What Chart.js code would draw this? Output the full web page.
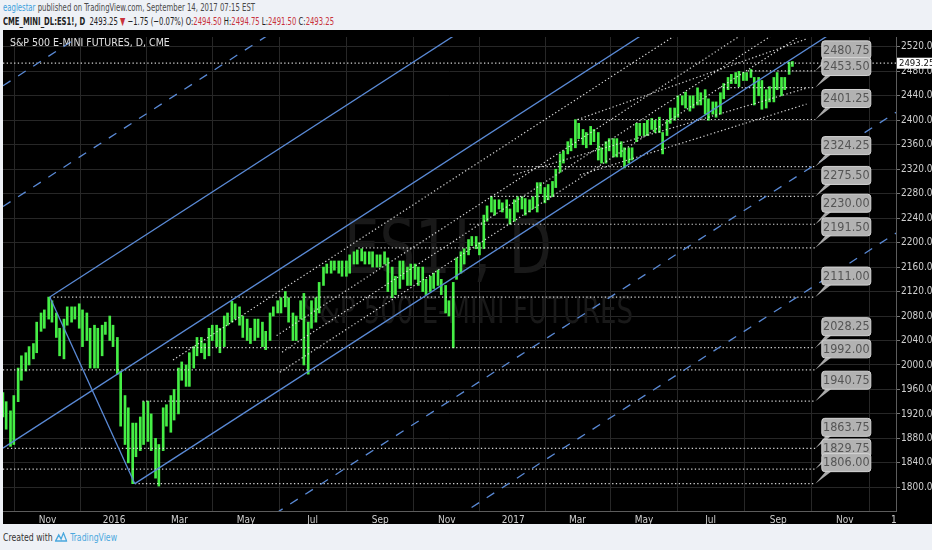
<!DOCTYPE html>
<html>
<head>
<meta charset="utf-8">
<script src="https://cdn.jsdelivr.net/npm/chart.js@4.4.1/dist/chart.umd.min.js"></script>
<style>
  html, body { margin: 0; padding: 0; width: 932px; height: 550px; overflow: hidden; background: #eef1f6; }
  .hl { position: absolute; left: 3px; white-space: nowrap; font-size: 11px; transform-origin: 0 0; }
  #head1 { top: 1px; color: #4a4a4a; }
  #head2 { top: 15px; color: #222; }
  #head1 .user { color: #3d9fdc; }
  #head2 .sym { font-weight: bold; }
  #head2 .red { color: #c8323c; }
  #box { position: absolute; left: 3px; top: 30px; width: 929px; height: 494px; background: #000; }
  #foot { position: absolute; left: 3px; top: 531px; font-size: 11px; color: #333; white-space: nowrap; transform-origin: 0 0; }
  #foot .tv { color: #4aa8de; }
</style>
</head>
<body>
<div id="head1" class="hl"><span class="user">eaglestar</span> published on TradingView.com, September 14, 2017 07:15 EST</div>
<div id="head2" class="hl"><span class="sym">CME_MINI_DL:ES1!, D</span>&nbsp; 2493.25 <span class="red">&#9660;</span> &minus;1.75 (&minus;0.07%) O:<span class="red">2494.50</span> H:<span class="red">2494.75</span> L:<span class="red">2491.50</span> C:<span class="red">2493.25</span></div>
<div id="box"><canvas id="chart" width="929" height="494" style="width:929px;height:494px"></canvas></div>
<div id="foot">Created with <svg width="16" height="10" viewBox="0 0 16 10" style="vertical-align:-1px"><path d="M1 9 L5 3 L8 7 L11 1 L15 9 Z" fill="none" stroke="#4aa8de" stroke-width="1.6"/></svg> <span class="tv">TradingView</span></div>

<script>
// ---- data ----
// half-week price ranges (date, low, high)
const barDates = [
  '2015-09-21','2015-09-24','2015-09-28','2015-10-01','2015-10-05','2015-10-08','2015-10-12','2015-10-15',
  '2015-10-19','2015-10-22','2015-10-26','2015-10-29','2015-11-02','2015-11-05','2015-11-09','2015-11-12',
  '2015-11-16','2015-11-19','2015-11-23','2015-11-26','2015-11-30','2015-12-03','2015-12-07','2015-12-10',
  '2015-12-14','2015-12-17','2015-12-21','2015-12-24','2015-12-28','2015-12-31','2016-01-04','2016-01-07',
  '2016-01-11','2016-01-14','2016-01-18','2016-01-21','2016-01-25','2016-01-28','2016-02-01','2016-02-04',
  '2016-02-08','2016-02-11','2016-02-15','2016-02-18','2016-02-22','2016-02-25','2016-02-29','2016-03-03',
  '2016-03-07','2016-03-10','2016-03-14','2016-03-17','2016-03-21','2016-03-24','2016-03-28','2016-03-31',
  '2016-04-04','2016-04-07','2016-04-11','2016-04-14','2016-04-18','2016-04-21','2016-04-25','2016-04-28',
  '2016-05-02','2016-05-05','2016-05-09','2016-05-12','2016-05-16','2016-05-19','2016-05-23','2016-05-26',
  '2016-05-30','2016-06-02','2016-06-06','2016-06-09','2016-06-13','2016-06-16','2016-06-20','2016-06-23',
  '2016-06-27','2016-06-30','2016-07-04','2016-07-07','2016-07-11','2016-07-14','2016-07-18','2016-07-21',
  '2016-07-25','2016-07-28','2016-08-01','2016-08-04','2016-08-08','2016-08-11','2016-08-15','2016-08-18',
  '2016-08-22','2016-08-25','2016-08-29','2016-09-01','2016-09-05','2016-09-08','2016-09-12','2016-09-15',
  '2016-09-19','2016-09-22','2016-09-26','2016-09-29','2016-10-03','2016-10-06','2016-10-10','2016-10-13',
  '2016-10-17','2016-10-20','2016-10-24','2016-10-27','2016-10-31','2016-11-03','2016-11-07','2016-11-10',
  '2016-11-14','2016-11-17','2016-11-21','2016-11-24','2016-11-28','2016-12-01','2016-12-05','2016-12-08',
  '2016-12-12','2016-12-15','2016-12-19','2016-12-22','2016-12-26','2016-12-29','2017-01-02','2017-01-05',
  '2017-01-09','2017-01-12','2017-01-16','2017-01-19','2017-01-23','2017-01-26','2017-01-30','2017-02-02',
  '2017-02-06','2017-02-09','2017-02-13','2017-02-16','2017-02-20','2017-02-23','2017-02-27','2017-03-02',
  '2017-03-06','2017-03-09','2017-03-13','2017-03-16','2017-03-20','2017-03-23','2017-03-27','2017-03-30',
  '2017-04-03','2017-04-06','2017-04-10','2017-04-13','2017-04-17','2017-04-20','2017-04-24','2017-04-27',
  '2017-05-01','2017-05-04','2017-05-08','2017-05-11','2017-05-15','2017-05-18','2017-05-22','2017-05-25',
  '2017-05-29','2017-06-01','2017-06-05','2017-06-08','2017-06-12','2017-06-15','2017-06-19','2017-06-22',
  '2017-06-26','2017-06-29','2017-07-03','2017-07-06','2017-07-10','2017-07-13','2017-07-17','2017-07-20',
  '2017-07-24','2017-07-27','2017-07-31','2017-08-03','2017-08-07','2017-08-10','2017-08-14','2017-08-17',
  '2017-08-21','2017-08-24','2017-08-28','2017-08-31','2017-09-04','2017-09-07','2017-09-11','2017-09-14'
];
const barLows = [
  1915,1895,1867,1870,1940,1975,1990,2000, 2010,2020,2055,2060,2075,2070,2045,2015,
  2010,2065,2070,2075,2060,2030,2040,1995, 1995,1995,2015,2050,2040,2030,1985,1900,
  1870,1840,1806,1850,1860,1870,1875,1860, 1815,1802,1860,1900,1890,1910,1920,1975,
  1965,1965,1995,2015,2020,2010,2015,2040, 2030,2020,2030,2065,2070,2075,2065,2045,
  2040,2035,2040,2045,2030,2025,2040,2080, 2085,2085,2095,2070,2040,2040,2075,2000,
  1985,2060,2070,2085,2130,2150,2150,2155, 2150,2145,2145,2150,2165,2165,2170,2165,
  2165,2160,2160,2160,2165,2120,2110,2115, 2125,2140,2130,2130,2140,2130,2120,2115,
  2120,2125,2130,2115,2085,2080,2028,2140, 2150,2165,2180,2195,2190,2180,2190,2235,
  2250,2245,2255,2250,2240,2230,2235,2250, 2255,2245,2250,2255,2250,2280,2265,2270,
  2275,2290,2315,2330,2345,2350,2355,2370, 2360,2355,2360,2365,2335,2330,2330,2350,
  2340,2340,2340,2322,2330,2335,2365,2375, 2375,2375,2385,2380,2380,2345,2375,2395,
  2400,2405,2425,2420,2415,2420,2425,2425, 2410,2400,2410,2405,2410,2435,2450,2460,
  2460,2455,2465,2465,2470,2425,2440,2418, 2420,2430,2430,2450,2440,2450,2475,2488
];
const barHighs = [
  1955,1940,1925,1950,1995,2015,2020,2030, 2035,2070,2085,2090,2111,2105,2085,2060,
  2075,2095,2095,2095,2100,2090,2085,2060, 2065,2060,2065,2070,2080,2065,2045,1990,
  1950,1930,1905,1905,1915,1940,1941,1920, 1880,1870,1930,1935,1950,1960,1995,2005,
  2000,2020,2030,2045,2045,2035,2060,2065, 2065,2060,2080,2085,2104,2100,2095,2080,
  2075,2060,2075,2075,2070,2055,2085,2095, 2105,2110,2120,2110,2085,2080,2105,2117,
  2070,2105,2110,2135,2160,2165,2170,2170, 2170,2170,2170,2180,2185,2188,2190,2185,
  2185,2185,2180,2180,2185,2175,2160,2145, 2170,2170,2160,2165,2165,2160,2160,2140,
  2145,2150,2155,2140,2130,2105,2135,2175, 2185,2190,2205,2210,2210,2200,2245,2260,
  2275,2270,2270,2265,2270,2255,2270,2275, 2275,2272,2270,2275,2298,2298,2290,2295,
  2300,2320,2345,2350,2365,2370,2401,2395, 2385,2380,2390,2385,2380,2355,2365,2370,
  2370,2370,2365,2355,2355,2355,2395,2395, 2395,2400,2403,2400,2405,2380,2400,2420,
  2420,2440,2440,2446,2440,2440,2453,2445, 2450,2435,2430,2430,2445,2460,2470,2475,
  2478,2480,2478,2478,2483,2470,2470,2465, 2450,2455,2470,2478,2470,2470,2495,2496
];
const lastPrice = 2493.25;

// horizontal levels with their callout labels
const levelValues = [2480.75, 2453.50, 2401.25, 2324.25, 2275.50, 2230.00, 2191.50,
                     2111.00, 2028.25, 1992.00, 1940.75, 1863.75, 1829.75, 1806.00];
const levelStarts = ['2017-08-04','2017-07-09','2017-03-01','2017-01-01','2016-12-11','2016-11-22','2016-08-12',
                     '2015-11-03','2016-02-19','2015-09-21','2016-01-27','2015-09-25','2015-09-21','2016-01-20'];
const levelEnd = '2017-10-05';

// pitchfork pivots (date, price)
const pitchA = ['2015-09-21', 1864];
const pitchB = ['2015-11-03', 2111];
const pitchC = ['2016-01-20', 1806];
const warningSteps = [2, 3, -2, -3];   // extra levels, in half-widths from the median

// dotted channels parallel to the pitchfork
const channelStarts = [['2016-02-24', 2008], ['2016-05-29', 2048], ['2016-06-03', 2021], ['2016-06-01', 1988]];
const channelEnd = '2017-09-27';

// dotted fan lines of 2017
const fanStarts = [['2017-03-01', 2401.25], ['2017-01-01', 2310.5], ['2017-03-03', 2310.5]];
const fanEnds   = [['2017-09-27', 2533],    ['2017-09-27', 2452.5], ['2017-09-27', 2426.5]];

// axes
const yTicks = [1800, 1840, 1880, 1920, 1960, 2000, 2040, 2080, 2120, 2160, 2200,
                2240, 2280, 2320, 2360, 2400, 2440, 2480, 2520];
const xTickDates = ['2015-11-01','2016-01-01','2016-03-01','2016-05-01','2016-07-01','2016-09-01','2016-11-01',
                    '2017-01-01','2017-03-01','2017-05-01','2017-07-01','2017-09-01','2017-11-01','2017-12-16'];
const xTickLabels = ['Nov','2016','Mar','May','Jul','Sep','Nov','2017','Mar','May','Jul','Sep','Nov','1'];
const viewFrom = '2015-09-21', viewTo = '2017-12-18';
const yMin = 1761.3, yMax = 2536.1;

// ---- helpers ----
const origin = Date.UTC(2015, 10, 1);
function dayNum(s) {
  const p = s.split('-').map(Number);
  return (Date.UTC(p[0], p[1] - 1, p[2]) - origin) / 86400000;
}

// pick a narrow face if one is installed
function pickFont(list) {
  const c = document.createElement('canvas').getContext('2d');
  const s = '2520.00 Nov Mar ES1!';
  c.font = '20px monospace';
  const base = c.measureText(s).width;
  for (const f of list) {
    c.font = '20px "' + f + '", monospace';
    if (Math.abs(c.measureText(s).width - base) > 0.5) return '"' + f + '"';
  }
  return 'sans-serif';
}
const narrow = pickFont(['Liberation Sans Narrow', 'DejaVu Sans Condensed', 'Liberation Sans']);
const isNarrow = narrow.indexOf('Narrow') >= 0 || narrow.indexOf('Condensed') >= 0;

document.querySelectorAll('.hl, #foot').forEach(el => { el.style.fontFamily = narrow + ', sans-serif'; });
function fitWidth(el, w) {
  const r = el.getBoundingClientRect().width;
  el.style.transform = 'scaleX(' + (w / r) + ')';
}
fitWidth(document.getElementById('head1'), 252);
fitWidth(document.getElementById('head2'), 331);
fitWidth(document.getElementById('foot'), 114);

const xMin = dayNum(viewFrom) + 0.1, xMax = dayNum(viewTo);

const BLUE = '#5a8ad6';
const DOT = 'rgba(235,235,235,0.9)';

function seg(x1, y1, x2, y2, style) {
  return Object.assign({
    type: 'line',
    data: [{ x: x1, y: y1 }, { x: x2, y: y2 }],
    pointRadius: 0, borderWidth: 1.2, fill: false, tension: 0, order: 0
  }, style);
}
const solid = { borderColor: BLUE, borderWidth: 1.3 };
const dashed = { borderColor: BLUE, borderWidth: 1.3, borderDash: [9, 9] };
const dotted = { borderColor: DOT, borderWidth: 1.2, borderDash: [1.3, 2.4] };

// ---- build datasets ----
const datasets = [];

datasets.push({
  type: 'bar',
  data: barDates.map((d, i) => ({ x: dayNum(d), y: [barLows[i], barHighs[i]] })),
  backgroundColor: '#45ee45',
  borderWidth: 0,
  barThickness: 2,
  order: 5
});

// pitchfork
const dA = dayNum(pitchA[0]), dB = dayNum(pitchB[0]), dC = dayNum(pitchC[0]);
const dM = (dB + dC) / 2, pM = (pitchB[1] + pitchC[1]) / 2;
const k = (pM - pitchA[1]) / (dM - dA);
const median = d => pitchA[1] + k * (d - dA);
const half = pitchB[1] - median(dB);

datasets.push(seg(dA, pitchA[1], xMax, median(xMax), solid));
datasets.push(seg(dB, pitchB[1], xMax, pitchB[1] + k * (xMax - dB), solid));
datasets.push(seg(dC, pitchC[1], xMax, pitchC[1] + k * (xMax - dC), solid));
datasets.push(seg(dB, pitchB[1], dC, pitchC[1], solid));
warningSteps.forEach(n => {
  datasets.push(seg(xMin, median(xMin) + n * half, xMax, median(xMax) + n * half, dashed));
});

// channels
const dEnd = dayNum(channelEnd);
channelStarts.forEach(s => {
  const d0 = dayNum(s[0]);
  datasets.push(seg(d0, s[1], dEnd, s[1] + k * (dEnd - d0), dotted));
});

// fans
fanStarts.forEach((s, i) => {
  datasets.push(seg(dayNum(s[0]), s[1], dayNum(fanEnds[i][0]), fanEnds[i][1], dotted));
});

// levels
const dLevelEnd = dayNum(levelEnd);
levelValues.forEach((v, i) => {
  datasets.push(seg(dayNum(levelStarts[i]), v, dLevelEnd, v, dotted));
});
datasets.push(seg(xMin, lastPrice, xMax, lastPrice, dotted));

// ---- plugins ----
function fitText(ctx, text, cx, baseline, size, width, color) {
  ctx.font = size + 'px ' + narrow;
  const w = ctx.measureText(text).width;
  ctx.save();
  ctx.translate(cx, baseline);
  ctx.scale(width / w, 1);
  ctx.fillStyle = color;
  ctx.textAlign = 'center';
  ctx.textBaseline = 'alphabetic';
  ctx.fillText(text, 0, 0);
  ctx.restore();
}

const watermark = {
  id: 'watermark',
  beforeDatasetsDraw(chart) {
    const ctx = chart.ctx;
    fitText(ctx, 'ES1!, D', 445, 243, 74, 208, '#191919');
    fitText(ctx, 'S&P 500 E-MINI FUTURES', 465, 293, 38, 330, '#191919');
  }
};

const callouts = {
  id: 'callouts',
  afterDatasetsDraw(chart) {
    const ctx = chart.ctx, xs = chart.scales.x, ys = chart.scales.y;
    const ax = xs.getPixelForValue(dLevelEnd);
    ctx.save();
    levelValues.forEach(v => {
      const ay = ys.getPixelForValue(v);
      const bx = ax + 31, by = ay - 21;
      ctx.fillStyle = '#a9a9a9';
      ctx.beginPath();
      ctx.moveTo(ax, ay);
      ctx.lineTo(bx - 20, by + 8);
      ctx.lineTo(bx - 14, by + 8);
      ctx.closePath();
      ctx.fill();
      ctx.beginPath();
      ctx.roundRect(bx - 24.5, by - 9, 49, 18, 3);
      ctx.fillStyle = '#b2b2b2';
      ctx.fill();
      ctx.strokeStyle = '#d4d4d4';
      ctx.lineWidth = 1;
      ctx.stroke();
      ctx.fillStyle = '#555';
      ctx.font = (isNarrow ? 12.5 : 11) + 'px ' + narrow;
      ctx.textAlign = 'center';
      ctx.textBaseline = 'middle';
      ctx.fillText(v.toFixed(2), bx, by + 0.5);
    });
    ctx.restore();
  },
  afterDraw(chart) {
    const ctx = chart.ctx, ys = chart.scales.y, area = chart.chartArea;
    const py = ys.getPixelForValue(lastPrice);
    ctx.save();
    ctx.fillStyle = '#ffffff';
    ctx.fillRect(area.right + 1, py - 5.5, chart.width - area.right - 1, 11);
    ctx.fillStyle = '#111';
    ctx.font = (isNarrow ? 9.5 : 8.5) + 'px ' + narrow;
    ctx.textAlign = 'left';
    ctx.textBaseline = 'middle';
    ctx.fillText(lastPrice.toFixed(2), area.right + 3, py + 0.5);
    ctx.fillStyle = '#e0e0e0';
    ctx.font = (isNarrow ? 10.5 : 9.5) + 'px ' + narrow;
    ctx.fillText('S&P 500 E-MINI FUTURES, D, CME', 7, 13);
    ctx.restore();
  }
};

const tickFont = { family: narrow, size: isNarrow ? 10 : 9 };

new Chart(document.getElementById('chart'), {
  type: 'bar',
  data: { datasets: datasets },
  options: {
    responsive: false,
    animation: false,
    layout: { padding: 0 },
    plugins: { legend: { display: false }, tooltip: { enabled: false } },
    scales: {
      x: {
        type: 'linear',
        min: xMin, max: xMax,
        offset: false,
        grid: { color: '#272727', drawTicks: false },
        border: { color: '#5c5c5c' },
        afterBuildTicks: s => { s.ticks = xTickDates.map(d => ({ value: dayNum(d) })); },
        afterFit: s => { s.height = 13; },
        ticks: {
          autoSkip: false, maxRotation: 0, padding: 3,
          color: '#cfcfcf', font: tickFont,
          callback: (v, i) => xTickLabels[i]
        }
      },
      y: {
        type: 'linear',
        position: 'right',
        min: yMin, max: yMax,
        grid: { color: '#272727', tickLength: 4, tickColor: '#777' },
        border: { color: '#5c5c5c' },
        afterBuildTicks: s => { s.ticks = yTicks.map(v => ({ value: v })); },
        afterFit: s => { s.width = 36; },
        ticks: {
          padding: 1, color: '#d0d0d0', font: tickFont,
          callback: v => Number(v).toFixed(2)
        }
      }
    }
  },
  plugins: [watermark, callouts]
});
</script>
</body>
</html>
